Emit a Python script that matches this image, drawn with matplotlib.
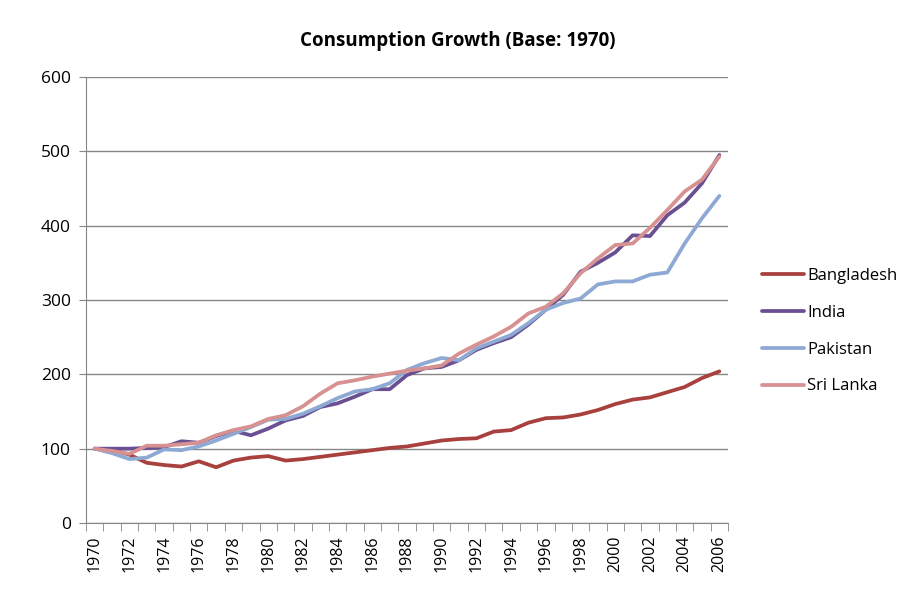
import matplotlib.pyplot as plt
import numpy as np

years = list(range(1970, 2007))

bangladesh = [100, 98, 92, 81, 78, 76, 83, 75, 84, 88, 90, 84, 86, 89, 92, 95, 98, 101, 103, 107, 111, 113, 114, 123, 125, 135, 141, 142, 146, 152,
              160, 166, 169, 176, 183, 195, 204]
india = [100, 100, 100, 101, 102, 110, 108, 117, 124, 118, 127, 138, 144, 156, 161, 170, 180, 180, 199, 208, 210, 219, 233, 242, 250, 267, 287, 307,
         338, 350, 364, 387, 386, 414, 431, 457, 495]
pakistan = [100, 94, 86, 88, 99, 98, 103, 111, 120, 129, 139, 140, 147, 157, 168, 177, 180, 188, 206, 215, 222, 219, 235, 244, 253, 269, 287, 296,
            302, 321, 325, 325, 334, 337, 376, 410, 440]
srilanka = [100, 97, 93, 104, 104, 106, 108, 118, 125, 130, 140, 145, 157, 174, 188, 192, 197, 201, 205, 208, 212, 228, 240, 251, 264, 282, 291, 309,
            336, 356, 374, 376, 397, 421, 446, 462, 493]

series = [
    ("Bangladesh", bangladesh, "#A8403E"),
    ("India", india, "#6A4F92"),
    ("Pakistan", pakistan, "#8DA9D4"),
    ("Sri Lanka", srilanka, "#D69190"),
]

plt.rcParams['font.family'] = ['Open Sans', 'DejaVu Sans']

fig = plt.figure(figsize=(9.16, 6), dpi=100)
ax = fig.add_axes([0.0939, 0.1283, 0.7009, 0.7434])

x = np.arange(len(years))
for name, vals, col in series:
    ax.plot(x, vals, color=col, lw=2.7, label=name, solid_capstyle='round')

ax.set_xlim(-0.5, len(years) - 0.5)
ax.set_ylim(0, 600)
ax.set_yticks(range(0, 601, 100))
ax.yaxis.grid(True, color='#868686', lw=1)
ax.set_axisbelow(True)

ax.set_xticks(x[::2])
ax.set_xticklabels([str(y) for y in years[::2]], rotation=90, fontsize=11.5)
ax.set_xticks(np.arange(-0.5, len(years), 1), minor=True)
ax.tick_params(axis='x', which='major', length=0, pad=9)
ax.tick_params(axis='x', which='minor', length=6, color='#868686')
ax.tick_params(axis='y', length=5, color='#868686', labelsize=12.5, pad=6)

for s in ['top', 'right']:
    ax.spines[s].set_visible(False)
ax.spines['left'].set_color('#868686')
ax.spines['bottom'].set_color('#868686')

fig.text(0.5, 0.932, "Consumption Growth (Base: 1970)", ha='center', va='center',
         fontsize=13.5, fontweight='bold')

ax.legend(loc='center left', bbox_to_anchor=(1.03, 0.43), frameon=False,
          fontsize=12, handlelength=2.5, labelspacing=1.25, handletextpad=0.2)

fig.savefig("out.png", dpi=100)
